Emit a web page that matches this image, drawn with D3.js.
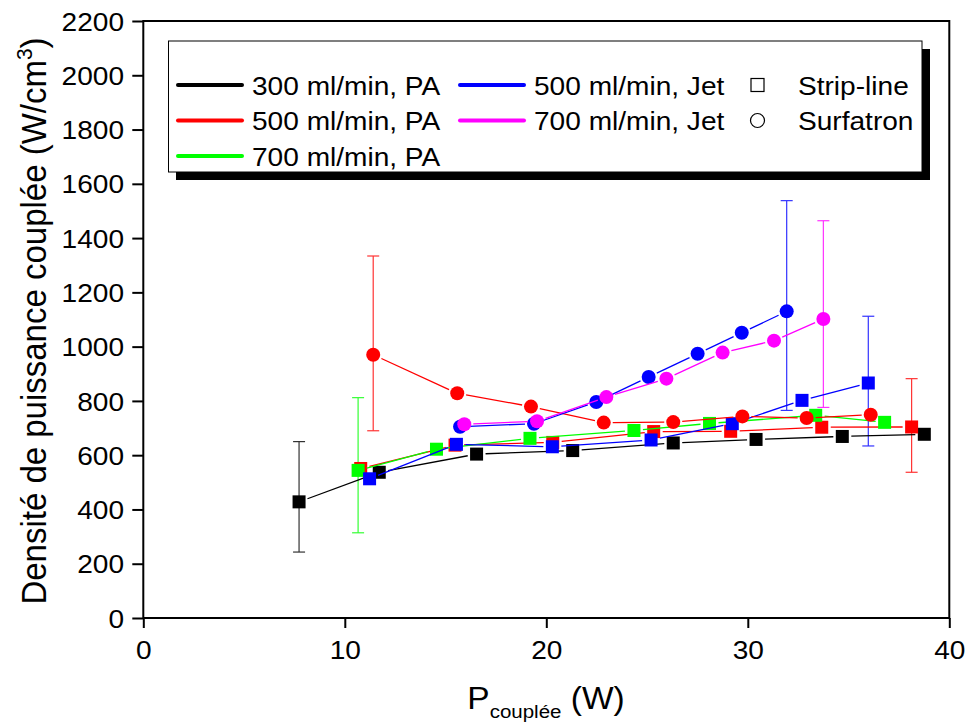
<!DOCTYPE html>
<html>
<head>
<meta charset="utf-8">
<script src="https://cdn.jsdelivr.net/npm/d3@7"></script>
<style>
  html, body { margin: 0; padding: 0; background: #fff; }
  text { font-family: "Liberation Sans", Arial, sans-serif; fill: #000; }
</style>
</head>
<body>
<svg id="chart" width="968" height="724"></svg>
<script>
// ---------------- DATA ----------------
const xTicks = [0, 10, 20, 30, 40];
const yTicks = [0, 200, 400, 600, 800, 1000, 1200, 1400, 1600, 1800, 2000, 2200];

// Strip-line (squares)
const pa300StripX = [7.73, 11.71, 16.54, 21.31, 26.30, 30.41, 34.69, 38.76];
const pa300StripY = [428, 537, 604, 617, 645, 658, 669, 677];

const pa500StripX = [10.79, 15.47, 20.32, 25.33, 29.15, 33.67, 38.13];
const pa500StripY = [551, 637, 647, 687, 688, 703, 704];

const pa700StripX = [10.66, 14.55, 19.19, 24.35, 28.10, 33.37, 36.79];
const pa700StripY = [544, 622, 662, 691, 717, 747, 721];

const jet500StripX = [11.23, 15.54, 20.30, 25.20, 29.23, 32.69, 35.98];
const jet500StripY = [513, 640, 631, 656, 716, 802, 866];

// Surfatron (circles)
const pa500SurfX = [11.41, 15.58, 19.24, 22.85, 26.30, 29.73, 32.92, 36.10];
const pa500SurfY = [970, 828, 779, 720, 722, 743, 737, 749];

const jet500SurfX = [15.72, 19.39, 22.48, 25.08, 27.51, 29.70, 31.93];
const jet500SurfY = [705, 716, 796, 888, 974, 1051, 1130];

const jet700SurfX = [15.93, 19.54, 22.98, 25.96, 28.75, 31.30, 33.75];
const jet700SurfY = [714, 725, 814, 882, 978, 1022, 1102];

// Error bars: [x, low, high]
const errPa300Strip = [[7.73, 243, 650]];
const errPa700Strip = [[10.66, 314, 812]];
const errPa500Surf  = [[11.41, 690, 1334]];
const errJet500Surf = [[31.93, 765, 1538]];
const errJet700Surf = [[33.75, 776, 1464]];
const errJet500Strip = [[35.98, 634, 1112]];
const errPa500Strip = [[38.13, 537, 882]];

const legendLines = ["300 ml/min, PA", "500 ml/min, PA", "700 ml/min, PA", "500 ml/min, Jet", "700 ml/min, Jet"];
const legendShapes = ["Strip-line", "Surfatron"];

// ---------------- STYLE / LAYOUT ----------------
const C = { black: "#000000", red: "#ff0000", green: "#00ff00", blue: "#0000ff", magenta: "#ff00ff" };
const SX = 1.08; // horizontal glyph stretch

const svg = d3.select("#chart");
const x = d3.scaleLinear().domain([0, 40]).range([143.3, 949.3]);
const y = d3.scaleLinear().domain([0, 2200]).range([618, 21]);

const series = [
  { xs: pa300StripX, ys: pa300StripY, color: C.black, shape: "sq", err: errPa300Strip },
  { xs: pa500StripX, ys: pa500StripY, color: C.red, shape: "sq", err: errPa500Strip },
  { xs: pa700StripX, ys: pa700StripY, color: C.green, shape: "sq", err: errPa700Strip },
  { xs: jet500StripX, ys: jet500StripY, color: C.blue, shape: "sq", err: errJet500Strip },
  { xs: pa500SurfX, ys: pa500SurfY, color: C.red, shape: "ci", err: errPa500Surf },
  { xs: jet500SurfX, ys: jet500SurfY, color: C.blue, shape: "ci", err: errJet500Surf },
  { xs: jet700SurfX, ys: jet700SurfY, color: C.magenta, shape: "ci", err: errJet700Surf }
];

// ---------------- AXES ----------------
const gx = svg.append("g").attr("transform", `translate(0,${y(0)})`);
gx.call(d3.axisBottom(x).tickValues(d3.range(5, 40, 10)).tickSize(5).tickFormat(""));
gx.call(d3.axisBottom(x).tickValues(xTicks).tickSize(10).tickFormat(d3.format("d")));
gx.select(".domain").remove();
gx.selectAll("line").attr("stroke", "#000").attr("stroke-width", 2);
gx.selectAll("text")
  .attr("font-size", 26).attr("y", 41).attr("dy", 0).attr("x", 0)
  .attr("transform", `scale(${SX},1)`)
  .style("font-family", '"Liberation Sans", Arial, sans-serif');

const gy = svg.append("g").attr("transform", `translate(${x(0)},0)`);
gy.call(d3.axisLeft(y).tickValues(d3.range(100, 2200, 200)).tickSize(6).tickFormat(""));
gy.call(d3.axisLeft(y).tickValues(yTicks).tickSize(11).tickFormat(d3.format("d")));
gy.select(".domain").remove();
gy.selectAll("line").attr("stroke", "#000").attr("stroke-width", 2);
gy.selectAll("text")
  .attr("font-size", 26).attr("x", -19.3 / SX).attr("dy", "0.35em")
  .attr("transform", `scale(${SX},1)`)
  .style("font-family", '"Liberation Sans", Arial, sans-serif');

// frame
svg.append("path")
  .attr("d", `M${x(0)},${y(0)} L${x(40)},${y(0)} L${x(40)},${y(2200)} L${x(0)},${y(2200)} Z`)
  .attr("fill", "none").attr("stroke", "#000").attr("stroke-width", 2);

// axis titles
const yt = svg.append("text")
  .attr("transform", `translate(46,321) scale(${SX},1) rotate(-90)`)
  .attr("text-anchor", "middle").attr("font-size", 33);
yt.append("tspan").text("Densité de puissance couplée (W/cm");
yt.append("tspan").attr("font-size", 21).attr("dy", -13).text("3");
yt.append("tspan").attr("dy", 13).text(")");

const xt = svg.append("text")
  .attr("transform", `translate(546,709) scale(${SX},1)`)
  .attr("text-anchor", "middle").attr("font-size", 31);
xt.append("tspan").text("P");
xt.append("tspan").attr("font-size", 19).attr("dy", 9).text("couplée");
xt.append("tspan").attr("dy", -9).text(" (W)");

// ---------------- LEGEND ----------------
const lg = svg.append("g");
lg.append("rect").attr("x", 176).attr("y", 49).attr("width", 754).attr("height", 131).attr("fill", "#000");
lg.append("rect").attr("x", 168.5).attr("y", 41).attr("width", 753.5).attr("height", 131)
  .attr("fill", "#fff").attr("stroke", "#000").attr("stroke-width", 1);

const rowY = [85, 120.5, 156];
const legendColors = [C.black, C.red, C.green, C.blue, C.magenta];
const legendPos = [[178, 0], [178, 1], [178, 2], [460, 0], [460, 1]];
legendLines.forEach((t, i) => {
  const [lx, r] = legendPos[i];
  lg.append("line").attr("x1", lx).attr("x2", lx + 64).attr("y1", rowY[r]).attr("y2", rowY[r])
    .attr("stroke", legendColors[i]).attr("stroke-width", 4).attr("stroke-linecap", "round");
  lg.append("text").attr("transform", `translate(${lx + 74},${rowY[r] + 9.5}) scale(${SX},1)`)
    .attr("font-size", 26).text(t);
});
lg.append("rect").attr("x", 751).attr("y", rowY[0] - 6.5).attr("width", 13).attr("height", 13)
  .attr("fill", "none").attr("stroke", "#000").attr("stroke-width", 1.2);
lg.append("circle").attr("cx", 757.5).attr("cy", rowY[1]).attr("r", 7)
  .attr("fill", "none").attr("stroke", "#000").attr("stroke-width", 1.2);
legendShapes.forEach((t, i) => {
  lg.append("text").attr("transform", `translate(798,${rowY[i] + 9.5}) scale(${SX},1)`)
    .attr("font-size", 26).text(t);
});

// ---------------- DATA MARKS ----------------
const gapR = 9;
// error bars first
series.forEach(s => {
  s.err.forEach(([ex, lo, hi]) => {
    const g = svg.append("g").attr("stroke", s.color).attr("stroke-width", 1.2).attr("opacity", 0.8);
    g.append("line").attr("x1", x(ex)).attr("x2", x(ex)).attr("y1", y(lo)).attr("y2", y(hi));
    g.append("line").attr("x1", x(ex) - 6).attr("x2", x(ex) + 6).attr("y1", y(lo)).attr("y2", y(lo));
    g.append("line").attr("x1", x(ex) - 6).attr("x2", x(ex) + 6).attr("y1", y(hi)).attr("y2", y(hi));
  });
});

series.forEach(s => {
  const pts = s.xs.map((v, i) => [x(v), y(s.ys[i])]);
  const g = svg.append("g");
  for (let i = 0; i < pts.length - 1; i++) {
    const [x1, y1] = pts[i], [x2, y2] = pts[i + 1];
    const dx = x2 - x1, dy = y2 - y1, L = Math.hypot(dx, dy);
    if (L <= 2 * gapR) continue;
    const ux = dx / L, uy = dy / L;
    g.append("line")
      .attr("x1", x1 + ux * gapR).attr("y1", y1 + uy * gapR)
      .attr("x2", x2 - ux * gapR).attr("y2", y2 - uy * gapR)
      .attr("stroke", s.color).attr("stroke-width", 1.3);
  }
  if (s.shape === "sq") {
    g.selectAll("rect.m").data(pts).join("rect").attr("class", "m")
      .attr("x", d => d[0] - 6.5).attr("y", d => d[1] - 6.5)
      .attr("width", 13).attr("height", 13).attr("fill", s.color);
  } else {
    g.selectAll("circle.m").data(pts).join("circle").attr("class", "m")
      .attr("cx", d => d[0]).attr("cy", d => d[1]).attr("r", 7).attr("fill", s.color);
  }
});
</script>
</body>
</html>
